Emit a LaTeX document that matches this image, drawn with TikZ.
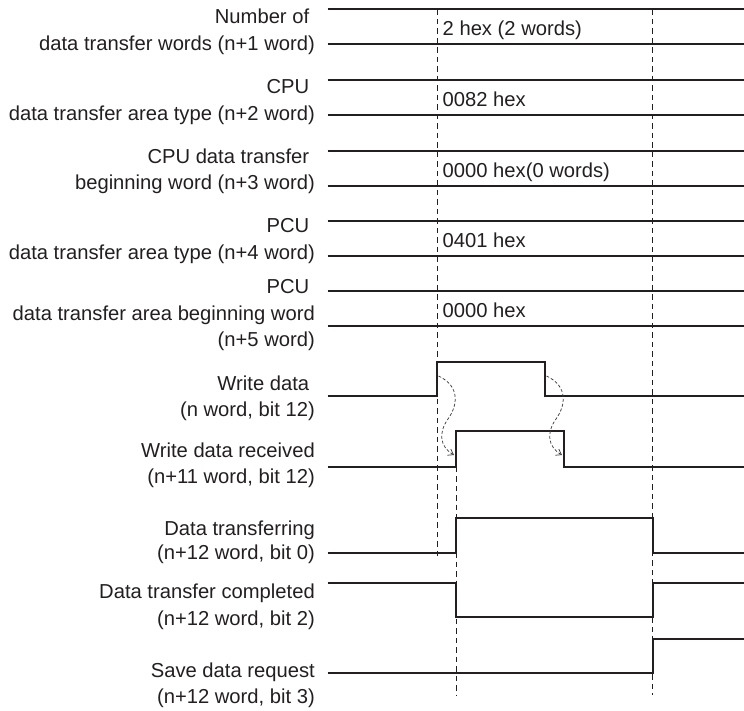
\documentclass[tikz,border=0pt]{standalone}
\usepackage{fontspec}
\setmainfont{Liberation Sans}
\usetikzlibrary{arrows.meta}
\definecolor{ink}{HTML}{231F20}
\begin{document}
\begin{tikzpicture}[x=1pt,y=-1pt,
  lbl/.style={font=\fontsize{20.2}{24}\selectfont, text=ink, inner sep=0pt, anchor=base east},
  val/.style={font=\fontsize{20.2}{24}\selectfont, text=ink, inner sep=0pt, anchor=base west},
  sig/.style={draw=ink, line width=1.7pt},
  guide/.style={draw=ink, line width=0.9pt, dash pattern=on 5.5pt off 4pt},
  cause/.style={draw=ink!85, line width=0.75pt, dash pattern=on 3pt off 2pt, -{Straight Barb[length=5pt,width=7pt]}}]
\useasboundingbox (0,0) rectangle (744,711);

% guides
\coordinate (g1t) at (437,9.3);   \coordinate (g1b) at (437,557.7);
\coordinate (g2t) at (652.7,9.3); \coordinate (g2b) at (652.7,695);
\coordinate (g3t) at (456,466.7); \coordinate (g3b) at (456,695);
\draw[guide] (g1t) -- (g1b);
\draw[guide] (g2t) -- (g2b);
\draw[guide] (g3t) -- (g3b);

% data rows
\foreach \t/\b in {9.3/44.3, 80/115, 150.7/185.7, 221/255.7, 291/326.3}{
  \draw[sig] (327.5,\t) -- (744,\t);
  \draw[sig] (327.5,\b) -- (744,\b);
}

% timing signals
\draw[sig] (327.5,396.3) -| (437,361.7) -| (545,396.3) -- (744,396.3);
\draw[sig] (327.5,466.7) -| (456,431.3) -| (563.7,466.7) -- (744,466.7);
\draw[sig] (327.5,552.7) -| (456,517.7) -| (652.7,552.7) -- (744,552.7);
\draw[sig] (327.5,583.3) -| (456,617.3) -| (652.7,583.3) -- (744,583.3);
\draw[sig] (327.5,672.7) -| (652.7,639.3) -- (744,639.3);

% cause arrows
\draw[cause] (438.5,376) .. controls (460,386) and (458,405) .. (448,419) .. controls (438,433) and (440,447) .. (454,455);
\draw[cause] (546.5,376) .. controls (568,386) and (566,405) .. (556,419) .. controls (546,433) and (548,447) .. (562,455);

% values
\node[val] (v1) at (442.5,36) {2 hex (2 words)};
\node[val] (v2) at (442.5,106.7) {0082 hex};
\node[val] (v3) at (442.5,177.7) {0000 hex(0 words)};
\node[val] (v4) at (442.5,247.3) {0401 hex};
\node[val] (v5) at (442.5,317.3) {0000 hex};

% labels
\node[lbl] (l1a) at (315,24) {Number of\kern0.278em};
\node[lbl] (l1b) at (315,50.5) {data transfer words (n+1 word)};
\node[lbl] (l2a) at (315,94) {CPU\kern0.278em};
\node[lbl] (l2b) at (315,120.5) {data transfer area type (n+2 word)};
\node[lbl] (l3a) at (315,164) {CPU data transfer\kern0.278em};
\node[lbl] (l3b) at (315,190) {beginning word (n+3 word)};
\node[lbl] (l4a) at (315,233) {PCU\kern0.278em};
\node[lbl] (l4b) at (315,260) {data transfer area type (n+4 word)};
\node[lbl] (l5a) at (315,293.5) {PCU\kern0.278em};
\node[lbl] (l5b) at (315,320) {data transfer area beginning word};
\node[lbl] (l5c) at (315,346) {(n+5 word)};
\node[lbl] (l6a) at (315,390) {Write data\kern0.278em};
\node[lbl] (l6b) at (315,416.5) {(n word, bit 12)};
\node[lbl] (l7a) at (315,457) {Write data received};
\node[lbl] (l7b) at (315,483) {(n+11 word, bit 12)};
\node[lbl] (l8a) at (315,535.5) {Data transferring};
\node[lbl] (l8b) at (315,559) {(n+12 word, bit 0)};
\node[lbl] (l9a) at (315,598) {Data transfer completed};
\node[lbl] (l9b) at (315,625) {(n+12 word, bit 2)};
\node[lbl] (l10a) at (315,677) {Save data request};
\node[lbl] (l10b) at (315,703) {(n+12 word, bit 3)};
\end{tikzpicture}
\end{document}
